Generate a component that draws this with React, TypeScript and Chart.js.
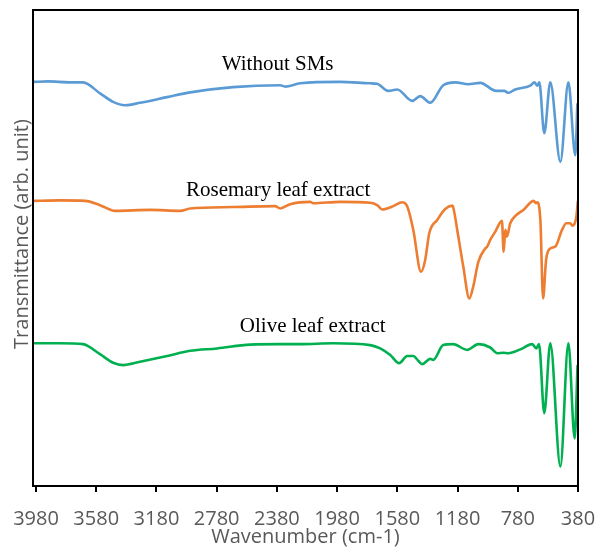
import React, { useEffect, useRef } from "react";
import { Chart, registerables } from "chart.js";

Chart.register(...registerables);

// ---- Data (arbitrary transmittance units, offset per series) ----
const seriesNames = ["Without SMs", "Rosemary leaf extract", "Olive leaf extract"];
const seriesColors = ["#5B9BD5", "#ED7D31", "#00B050"];

const withoutSMsWavenumber = [
  4000, 3900, 3760, 3668, 3555, 3468, 3388, 3289, 3109, 2956, 2671, 2358, 2325, 2225, 1960,
  1760, 1714, 1641, 1581, 1481, 1428, 1361, 1275, 1195, 1109, 1029, 923, 870, 843, 797, 697,
  670, 650, 637, 604, 564, 497, 444, 398, 384,
];
const withoutSMsTransmittance = [
  84.9, 85.0, 84.8, 84.8, 82.5, 80.7, 80.0, 80.5, 81.7, 82.7, 83.8, 84.2, 83.9, 84.6, 84.9,
  84.6, 84.5, 83.0, 83.3, 80.9, 81.9, 80.5, 84.2, 84.8, 84.4, 84.7, 83.0, 83.0, 82.6, 83.3, 84.1,
  84.8, 84.1, 84.8, 74.1, 84.8, 68.1, 84.8, 69.5, 80.4,
];

const rosemaryWavenumber = [
  4000, 3820, 3654, 3555, 3455, 3222, 3023, 2956, 2671, 2392, 2358, 2292, 2159, 2139, 1960,
  1760, 1714, 1680, 1607, 1548, 1514, 1474, 1423, 1395, 1368, 1315, 1262, 1215, 1207, 1175,
  1142, 1102, 1076, 1042, 996, 983, 963, 930, 885, 874, 863, 852, 830, 790, 743, 675, 659,
  652, 630, 612, 592, 564, 531, 486, 458, 431, 418, 391, 381,
];
const rosemaryTransmittance = [
  59.9, 60.0, 59.9, 59.0, 57.8, 58.0, 57.8, 58.3, 58.6, 58.8, 58.3, 59.2, 59.7, 59.4, 59.7,
  59.5, 59.0, 58.1, 58.8, 59.6, 58.7, 53.8, 45.0, 47.5, 53.1, 55.9, 58.2, 58.9, 58.3, 52.4,
  46.1, 39.4, 41.9, 47.1, 49.9, 50.3, 51.7, 53.4, 55.7, 49.2, 53.8, 52.4, 55.2, 56.9, 58.0, 59.9, 59.4,
  59.6, 55.9, 39.4, 47.5, 49.9, 50.3, 53.8, 55.2, 55.2, 54.7, 56.6, 59.9,
];

const oliveWavenumber = [
  4000, 3820, 3668, 3555, 3468, 3402, 3289, 3109, 2956, 2777, 2558, 2358, 2225, 2006, 1760,
  1694, 1627, 1568, 1514, 1474, 1441, 1415, 1361, 1342, 1275, 1209, 1116, 1042, 963, 916,
  876, 843, 763, 684, 657, 639, 604, 564, 497, 444, 402, 383,
];
const oliveTransmittance = [
  30.0, 30.0, 29.8, 27.7, 25.9, 25.4, 26.1, 27.3, 28.4, 28.9, 29.7, 29.8, 29.8, 30.0, 29.6,
  28.9, 27.5, 25.8, 27.3, 27.3, 26.3, 25.6, 26.7, 26.5, 29.6, 29.8, 28.6, 29.8, 29.1, 27.9,
  28.0, 27.9, 28.7, 29.8, 28.9, 29.8, 15.3, 30.0, 4.1, 30.0, 10.0, 25.4,
];

const xTickValues = [3980, 3580, 3180, 2780, 2380, 1980, 1580, 1180, 780, 380];

// ---- Layout / style (not data) ----
const labelAnchors = [
  { x: 2375, y: 87.3 },
  { x: 2372, y: 61.0 },
  { x: 2142, y: 32.4 },
];
const yTitle = "Transmittance (arb. unit)";
const xTitle = "Wavenumber (cm-1)";
const axisFont = "Open Sans";
const axisColor = "#595959";

const toPoints = (xs: number[], ys: number[]) => xs.map((x, i) => ({ x, y: ys[i] }));

const framePlugin = {
  id: "frameAndLabels",
  afterDatasetsDraw(chart: any) {
    const { ctx, chartArea, scales } = chart;
    ctx.save();
    ctx.strokeStyle = "#000";
    ctx.lineWidth = 2;
    ctx.strokeRect(chartArea.left, chartArea.top, chartArea.right - chartArea.left, chartArea.bottom - chartArea.top);

    ctx.fillStyle = "#000";
    ctx.font = '21px "Liberation Serif"';
    ctx.textAlign = "center";
    ctx.textBaseline = "alphabetic";
    chart.data.datasets.forEach((ds: any, i: number) => {
      const a = labelAnchors[i];
      ctx.fillText(ds.label, scales.x.getPixelForValue(a.x), scales.y.getPixelForValue(a.y));
    });

    // y axis title
    ctx.fillStyle = axisColor;
    ctx.font = `20px "${axisFont}"`;
    ctx.translate(chartArea.left - 5, (chartArea.top + chartArea.bottom) / 2 - 14);
    ctx.rotate(-Math.PI / 2);
    ctx.textAlign = "center";
    ctx.textBaseline = "alphabetic";
    ctx.fillText(yTitle, 0, 0);
    ctx.restore();
  },
};

export default function App() {
  const ref = useRef<HTMLCanvasElement>(null);

  useEffect(() => {
    if (!ref.current) return;
    const series = [
      toPoints(withoutSMsWavenumber, withoutSMsTransmittance),
      toPoints(rosemaryWavenumber, rosemaryTransmittance),
      toPoints(oliveWavenumber, oliveTransmittance),
    ];
    const chart = new Chart(ref.current, {
      type: "line",
      data: {
        datasets: series.map((data, i) => ({
          label: seriesNames[i],
          data,
          borderColor: seriesColors[i],
          backgroundColor: seriesColors[i],
          borderWidth: 2.6,
          pointRadius: 0,
          cubicInterpolationMode: "monotone" as const,
          fill: false,
        })),
      },
      options: {
        animation: false,
        responsive: false,
        layout: { padding: { top: 10, right: 19, left: 0, bottom: 0 } },
        plugins: { legend: { display: false }, tooltip: { enabled: false } },
        scales: {
          x: {
            type: "linear",
            min: 380,
            max: 4000,
            reverse: true,
            afterBuildTicks: (s: any) => {
              s.ticks = xTickValues.map((v) => ({ value: v }));
            },
            afterFit: (s: any) => {
              s.height = 63;
              s.paddingLeft = 0;
              s.paddingRight = 0;
            },
            ticks: {
              callback: (v: any) => String(v),
              font: { family: axisFont, size: 20 },
              color: axisColor,
              maxRotation: 0,
              autoSkip: false,
              padding: 15,
            },
            grid: { drawOnChartArea: false, drawTicks: true, tickLength: 6, color: "#000", lineWidth: 2 },
            border: { display: true, color: "#000", width: 2 },
            title: {
              display: true,
              text: xTitle,
              font: { family: axisFont, size: 20 },
              color: axisColor,
              padding: { top: 0, bottom: 0 },
            },
          },
          y: {
            type: "linear",
            min: 0,
            max: 100,
            ticks: { display: false },
            grid: { display: false, drawTicks: false },
            border: { display: true, color: "#000", width: 2 },
            afterFit: (s: any) => {
              s.width = 33;
              s.paddingTop = 0;
              s.paddingBottom = 0;
            },
          },
        },
      },
      plugins: [framePlugin],
    });
    return () => chart.destroy();
  }, []);

  return (
    <div style={{ position: "absolute", left: 0, top: 0, width: 597, height: 549, background: "#fff" }}>
      <canvas ref={ref} width={597} height={549} style={{ display: "block" }} />
    </div>
  );
}
